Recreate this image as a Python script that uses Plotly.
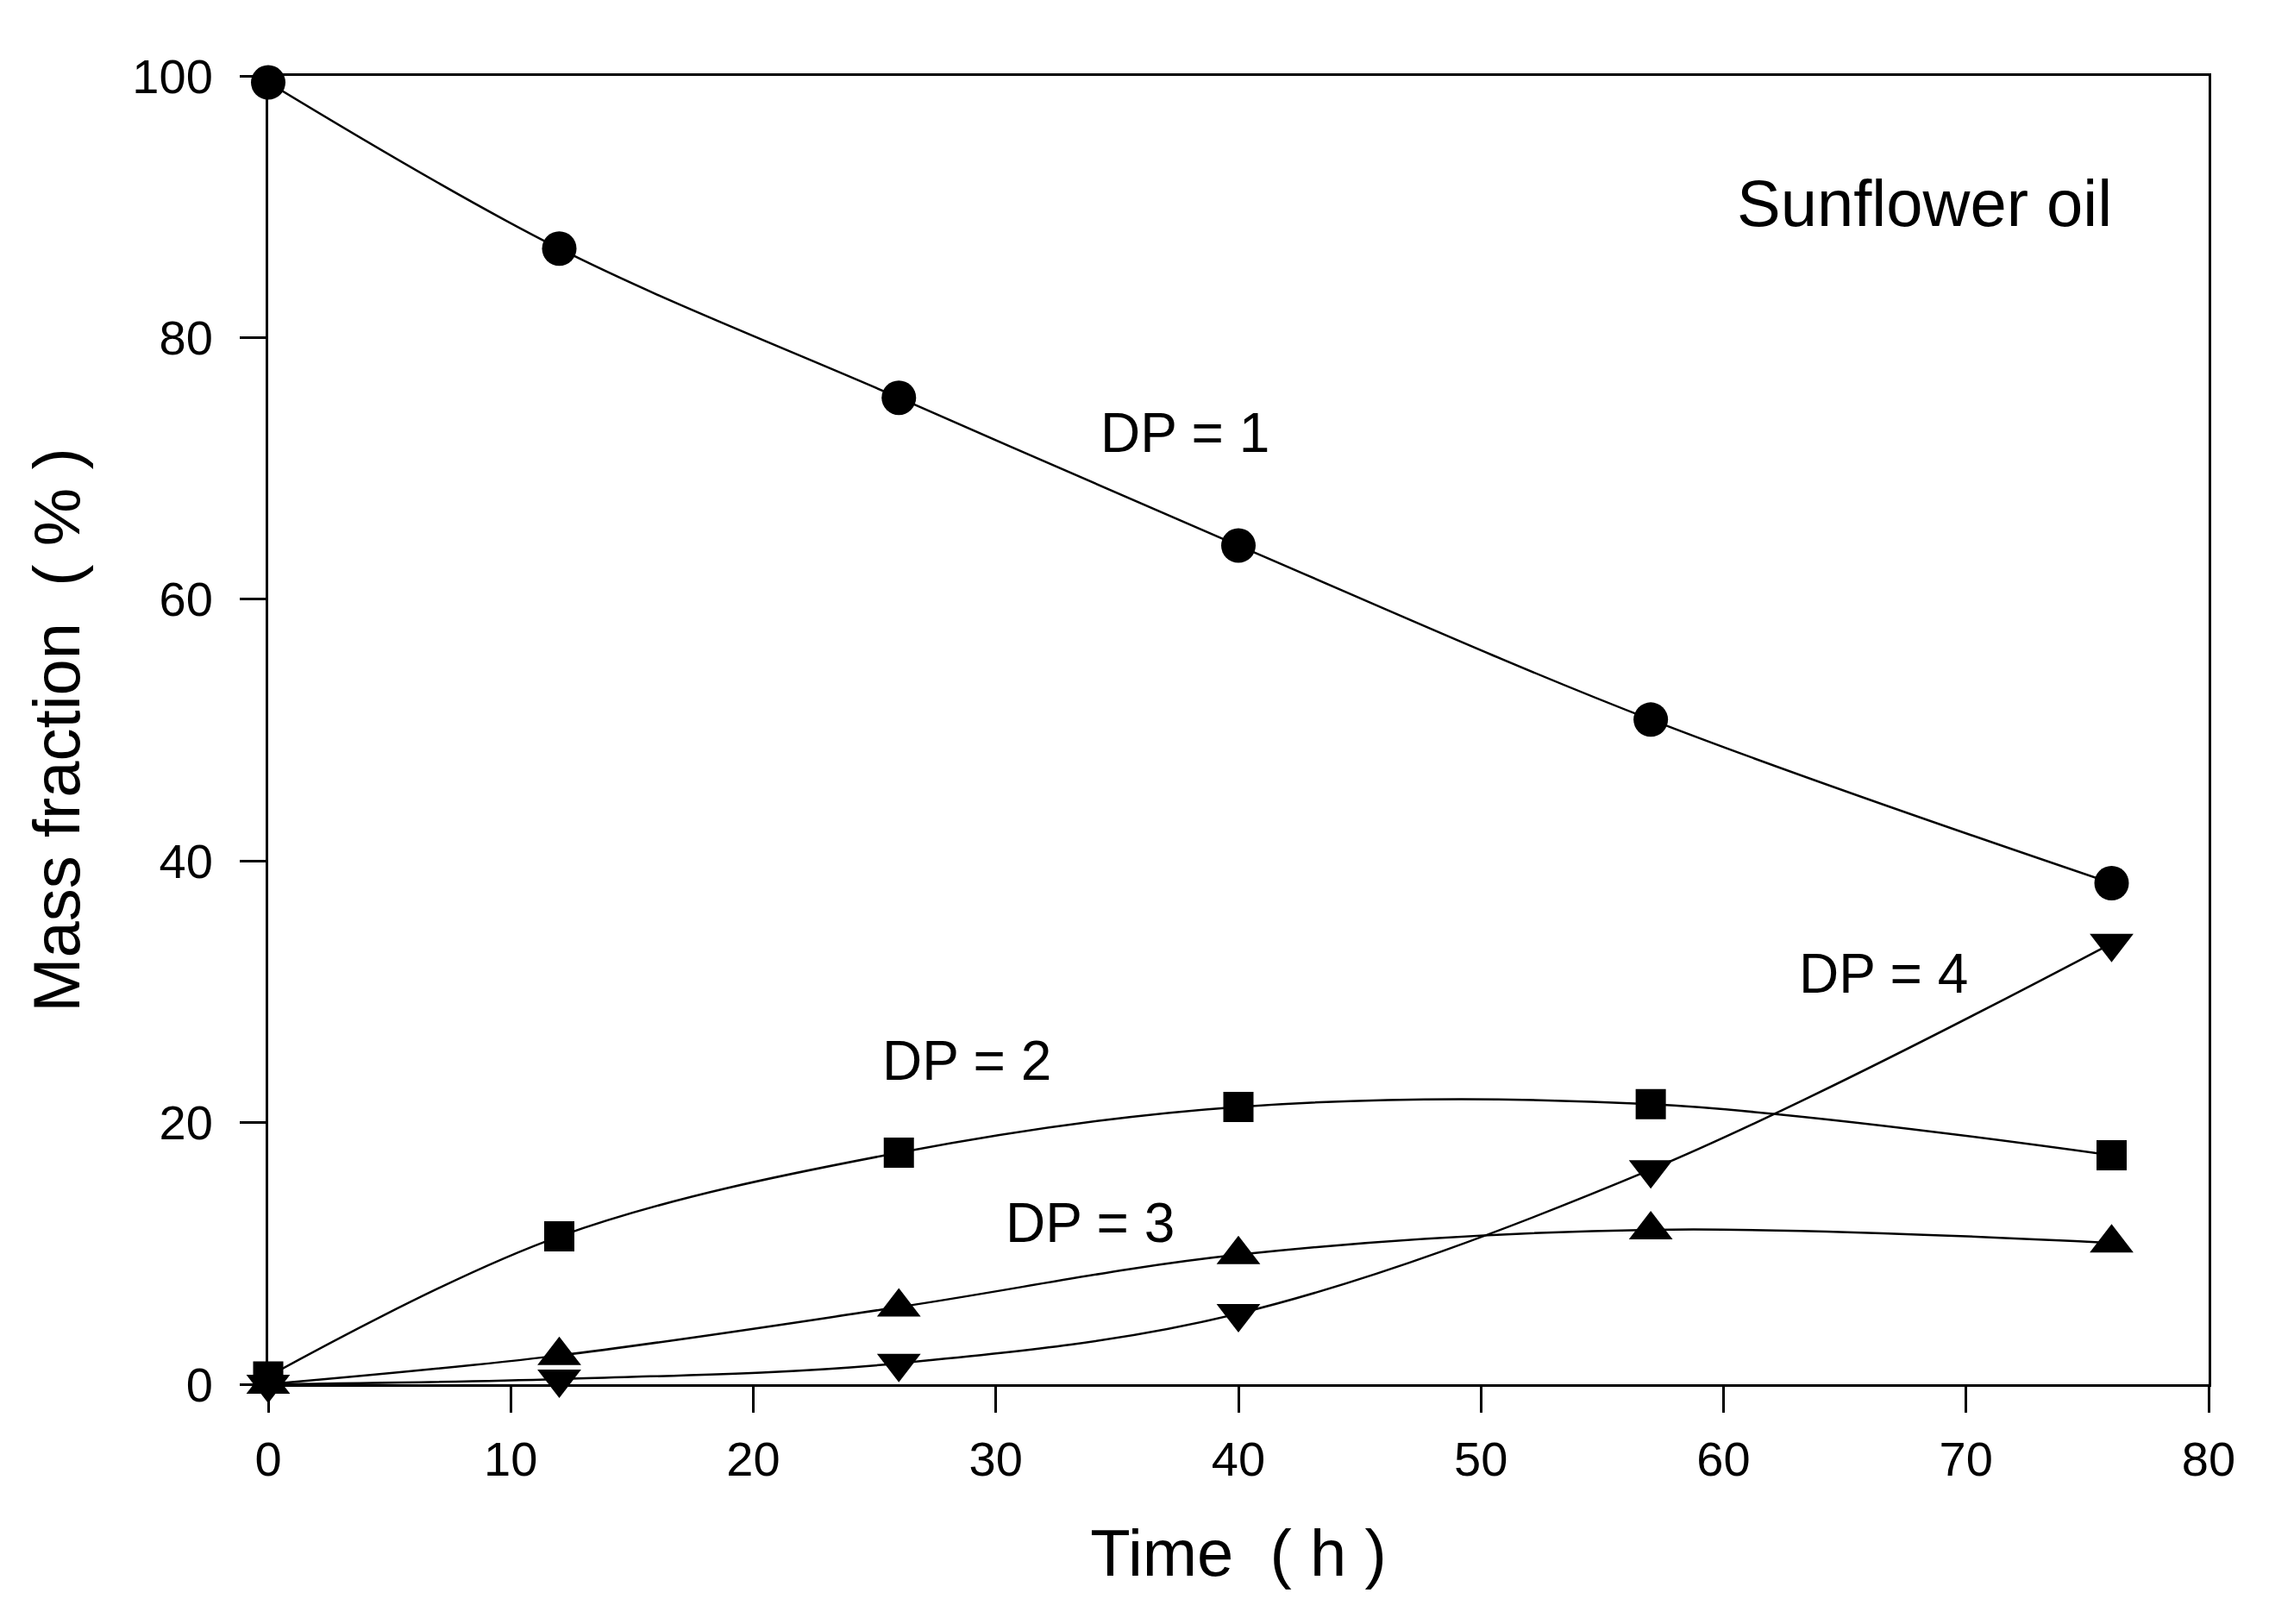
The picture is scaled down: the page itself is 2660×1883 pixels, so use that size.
import plotly.graph_objects as go

# sampling times (h)
time_h = [0, 12, 26, 40, 57, 76]

# mass fraction (%) for each degree of polymerisation
dp1 = [99.5, 86.8, 75.4, 64.1, 50.8, 38.3]
dp2 = [0.6, 11.3, 17.7, 21.2, 21.4, 17.5]
dp3 = [0.0, 2.2, 5.9, 9.9, 11.8, 10.8]
dp4 = [0.0, 0.4, 1.6, 5.4, 16.4, 33.7]

x_ticks = [0, 10, 20, 30, 40, 50, 60, 70, 80]
y_ticks = [0, 20, 40, 60, 80, 100]

# label text and where it sits (data coords)
labels = ["DP = 1", "DP = 2", "DP = 3", "DP = 4"]
label_x = [37.8, 28.8, 33.9, 66.6]
label_y = [72.7, 24.7, 12.3, 31.4]

FONT = "Liberation Sans, Arial, sans-serif"

fig = go.Figure()

series = [
    (dp1, "circle", 40),
    (dp2, "square", 35),
    (dp3, "triangle-up", 44),
    (dp4, "triangle-down", 44),
]
for vals, sym, size in series:
    fig.add_trace(go.Scatter(
        x=time_h, y=vals,
        mode="lines+markers",
        line=dict(color="black", width=2.5, shape="spline", smoothing=1),
        marker=dict(symbol=sym, size=size, color="black", line=dict(width=0)),
        cliponaxis=False,
        showlegend=False,
    ))

for txt, lx, ly in zip(labels, label_x, label_y):
    fig.add_annotation(x=lx, y=ly, xref="x", yref="y", text=txt,
                       showarrow=False, xanchor="center", yanchor="middle",
                       font=dict(family=FONT, size=64, color="black"))

fig.add_annotation(x=68.3, y=90.3, xref="x", yref="y", text="Sunflower oil",
                   showarrow=False, xanchor="center", yanchor="middle",
                   font=dict(family=FONT, size=76, color="black"))

axis_style = dict(
    showline=True, linecolor="black", linewidth=3, mirror=True,
    ticks="outside", ticklen=30, tickwidth=2.5, tickcolor="black",
    showgrid=False, zeroline=False,
    tickfont=dict(family=FONT, size=56, color="black"),
)

fig.update_xaxes(range=[0, 80], tickvals=x_ticks, ticklabelstandoff=6,
                 title=dict(text="Time\u00a0\u00a0( h )", standoff=52,
                            font=dict(family=FONT, size=76, color="black")),
                 **axis_style)
fig.update_yaxes(range=[0, 100], tickvals=y_ticks, ticklabelstandoff=20,
                 title=dict(text="Mass fraction\u00a0\u00a0( % )", standoff=36,
                            font=dict(family=FONT, size=76, color="black")),
                 **axis_style)

fig.update_layout(
    width=2660, height=1883, autosize=False,
    margin=dict(l=303, r=107, t=80, b=286),
    paper_bgcolor="white", plot_bgcolor="white",
    font=dict(family=FONT, color="black"),
)

fig.write_html("out.html")
